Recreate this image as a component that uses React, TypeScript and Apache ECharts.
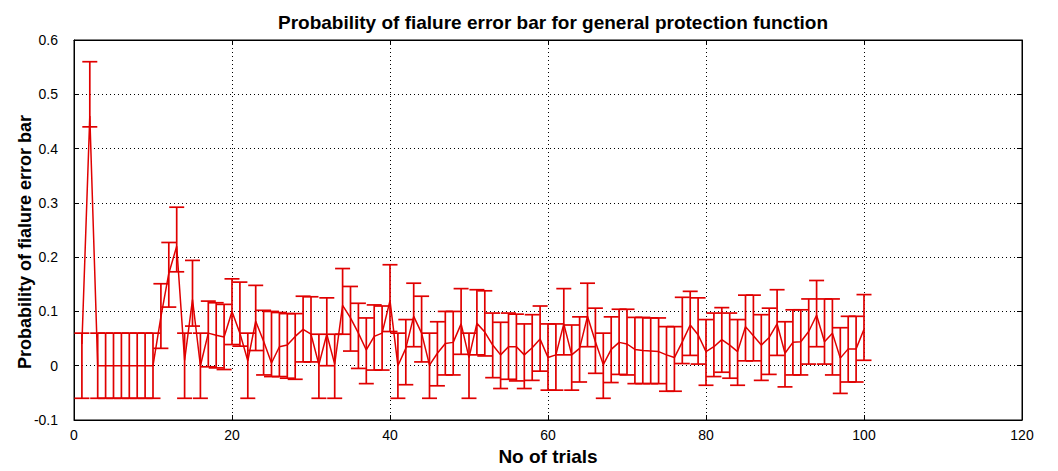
import React, { useEffect, useRef } from "react";
import * as echarts from "echarts";

const titleText = "Probability of fialure error bar for general protection function";
const xName = "No of trials";
const yName = "Probability of fialure error bar";

const xTicks = [0, 20, 40, 60, 80, 100, 120];
const yTicks = [-0.1, 0, 0.1, 0.2, 0.3, 0.4, 0.5, 0.6];

// probability of failure (centre of each error bar), trials 1..100
const centre = [
  0.04, 0.46, 0, 0, 0, 0, 0, 0, 0, 0,
  0.09, 0.17, 0.22, 0.01, 0.122, 0.0, 0.06, 0.056, 0.053, 0.1,
  0.06, 0.009, 0.082, 0.045, 0.005, 0.035, 0.038, 0.054, 0.067, 0.058,
  0.002, 0.058, 0.003, 0.111, 0.088, 0.06, 0.029, 0.054, 0.06, 0.12,
  0.0, 0.032, 0.091, 0.06, 0.001, 0.023, 0.041, 0.043, 0.077, 0.015,
  0.078, 0.062, 0.038, 0.02, 0.035, 0.035, 0.02, 0.033, 0.049, 0.015,
  0.02, 0.077, 0.02, 0.032, 0.091, 0.044, 0.002, 0.03, 0.043, 0.04,
  0.03, 0.028, 0.027, 0.026, 0.02, 0.015, 0.044, 0.075, 0.057, 0.026,
  0.035, 0.048, 0.038, 0.026, 0.072, 0.055, 0.038, 0.052, 0.077, 0.023,
  0.043, 0.044, 0.063, 0.093, 0.044, 0.06, 0.014, 0.031, 0.031, 0.067,
];

// lower end of each error bar
const lower = [
  -0.06, 0.44, -0.06, -0.06, -0.06, -0.06, -0.06, -0.06, -0.06, -0.06,
  0.032, 0.108, 0.173, -0.06, 0.073, -0.06, -0.002, -0.004, -0.007, 0.039,
  0.036, -0.06, 0.028, -0.017, -0.02, -0.02, -0.023, -0.025, 0.007, 0.007,
  -0.06, 0.0, -0.06, 0.058, 0.027, -0.005, -0.033, -0.008, -0.008, 0.063,
  -0.06, -0.035, 0.035, 0.007, -0.06, -0.037, -0.017, -0.017, 0.021, -0.06,
  0.02, 0.018, -0.022, -0.042, -0.025, -0.028, -0.042, -0.027, -0.01, -0.045,
  -0.045, 0.02, -0.045, -0.03, 0.035, -0.014, -0.06, -0.031, -0.016, -0.017,
  -0.033, -0.033, -0.033, -0.033, -0.047, -0.047, 0.004, 0.019, 0.003, -0.036,
  -0.02, -0.012, -0.023, -0.036, 0.009, 0.009, -0.027, -0.016, 0.019, -0.039,
  -0.017, -0.017, 0.003, 0.035, 0.003, -0.017, -0.051, -0.03, -0.03, 0.01,
];

// upper end of each error bar
const upper = [
  0.06, 0.56, 0.06, 0.06, 0.06, 0.06, 0.06, 0.06, 0.06, 0.06,
  0.151, 0.227, 0.292, 0.06, 0.194, 0.06, 0.119, 0.116, 0.113, 0.16,
  0.154, 0.06, 0.148, 0.102, 0.1, 0.098, 0.096, 0.096, 0.128, 0.127,
  0.058, 0.125, 0.058, 0.179, 0.146, 0.115, 0.088, 0.112, 0.11, 0.186,
  0.06, 0.085, 0.152, 0.128, 0.06, 0.081, 0.1, 0.1, 0.142, 0.06,
  0.14, 0.138, 0.097, 0.08, 0.097, 0.095, 0.077, 0.094, 0.11, 0.077,
  0.077, 0.142, 0.075, 0.09, 0.152, 0.106, 0.06, 0.09, 0.104, 0.104,
  0.089, 0.089, 0.088, 0.088, 0.072, 0.072, 0.126, 0.137, 0.125, 0.085,
  0.097, 0.107, 0.097, 0.085, 0.13, 0.13, 0.094, 0.106, 0.14, 0.081,
  0.103, 0.103, 0.123, 0.157, 0.123, 0.123, 0.07, 0.091, 0.091, 0.131,
];

const trials = centre.map((_, i) => i + 1);

const RED = "#e00000";

export default function App() {
  const ref = useRef<HTMLDivElement>(null);
  useEffect(() => {
    document.body.style.margin = "0";
    const chart = echarts.init(ref.current!, null, { renderer: "svg" });
    const lineData = trials.map((t, i) => [t, centre[i]]);
    const barData = trials.map((t, i) => [t, lower[i], upper[i]]);
    const font = "'Liberation Sans', Arial, sans-serif";
    const tick = { show: true, inside: true, length: 5, lineStyle: { color: "#000" } };
    const axLine = { show: true, onZero: false, lineStyle: { color: "#000" } };
    chart.setOption({
      animation: false,
      backgroundColor: "#ffffff",
      title: {
        text: titleText,
        left: 548,
        top: 8,
        textAlign: "center",
        textStyle: { fontFamily: font, fontSize: 19, fontWeight: "bold", color: "#000" },
      },
      graphic: [
        {
          type: "text",
          x: 25,
          y: 242,
          rotation: Math.PI / 2,
          style: {
            text: yName,
            fontFamily: font,
            fontSize: 18,
            fontWeight: "bold",
            fill: "#000",
            textAlign: "center",
            textVerticalAlign: "middle",
          },
        },
      ],
      grid: {
        left: 74,
        right: 36,
        top: 40,
        bottom: 49,
        show: true,
        borderColor: "#000",
        borderWidth: 1,
        backgroundColor: "#fff",
      },
      xAxis: [
        {
          type: "value",
          min: xTicks[0],
          max: xTicks[xTicks.length - 1],
          interval: 20,
          name: xName,
          nameLocation: "middle",
          nameGap: 27,
          nameTextStyle: { fontFamily: font, fontSize: 19, fontWeight: "bold", color: "#000" },
          axisLine: axLine,
          axisTick: tick,
          axisLabel: { fontFamily: font, fontSize: 14, color: "#000", margin: 8 },
          splitLine: { show: true, lineStyle: { color: "#000", type: [1, 3], width: 1 } },
        },
        {
          type: "value",
          position: "top",
          min: xTicks[0],
          max: xTicks[xTicks.length - 1],
          interval: 20,
          axisLine: axLine,
          axisTick: tick,
          axisLabel: { show: false },
          splitLine: { show: false },
        },
      ],
      yAxis: [
        {
          type: "value",
          min: yTicks[0],
          max: yTicks[yTicks.length - 1],
          interval: 0.1,
          axisLine: axLine,
          axisTick: tick,
          axisLabel: {
            fontFamily: font,
            fontSize: 14,
            color: "#000",
            margin: 16,
            formatter: (v: number) => String(Math.round(v * 10) / 10),
          },
          splitLine: { show: true, lineStyle: { color: "#000", type: [1, 3], width: 1 } },
        },
        {
          type: "value",
          position: "right",
          min: yTicks[0],
          max: yTicks[yTicks.length - 1],
          interval: 0.1,
          axisLine: axLine,
          axisTick: tick,
          axisLabel: { show: false },
          splitLine: { show: false },
        },
      ],
      series: [
        {
          type: "custom",
          name: "error",
          xAxisIndex: 0,
          yAxisIndex: 0,
          data: barData,
          encode: { x: 0, y: [1, 2] },
          renderItem: (params: any, api: any) => {
            const x = api.value(0);
            const lo = api.coord([x, api.value(1)]);
            const hi = api.coord([x, api.value(2)]);
            const w = 7.5;
            const style = { stroke: RED, lineWidth: 1.7 };
            return {
              type: "group",
              children: [
                { type: "line", shape: { x1: lo[0], y1: lo[1], x2: hi[0], y2: hi[1] }, style },
                { type: "line", shape: { x1: lo[0] - w, y1: lo[1], x2: lo[0] + w, y2: lo[1] }, style },
                { type: "line", shape: { x1: hi[0] - w, y1: hi[1], x2: hi[0] + w, y2: hi[1] }, style },
              ],
            };
          },
          z: 3,
        },
        {
          type: "line",
          name: "centre",
          xAxisIndex: 0,
          yAxisIndex: 0,
          data: lineData,
          showSymbol: false,
          symbol: "none",
          lineStyle: { color: RED, width: 1.5 },
          z: 4,
        },
      ],
    });
    return () => chart.dispose();
  }, []);
  return <div ref={ref} style={{ width: 1058, height: 471 }} />;
}
